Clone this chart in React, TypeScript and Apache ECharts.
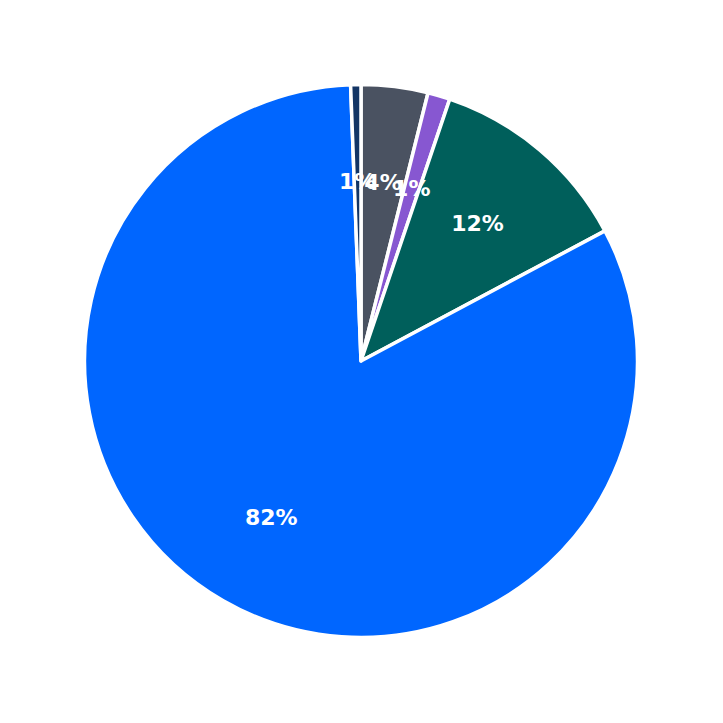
import React, { useEffect, useRef } from "react";
import * as echarts from "echarts";

const categories = ["A", "B", "C", "D", "E"];
const values = [3.9, 1.3, 12.0, 82.2, 0.6];
const colors = ["#4A5261", "#8757D1", "#005F5B", "#0066FF", "#133565"];

export default function App() {
  const ref = useRef<HTMLDivElement>(null);
  useEffect(() => {
    if (!ref.current) return;
    const chart = echarts.init(ref.current, null, { renderer: "svg" });
    const data = categories.map((c, i) => ({
      name: c,
      value: values[i],
      itemStyle: { color: colors[i] },
    }));
    chart.setOption({
      animation: false,
      series: [
        {
          type: "pie",
          center: [361, 361],
          radius: [0, 276.5],
          startAngle: 90,
          clockwise: true,
          silent: true,
          itemStyle: { borderColor: "#ffffff", borderWidth: 3.5 },
          label: { show: false },
          labelLine: { show: false },
          data,
        },
        {
          type: "pie",
          center: [361, 361],
          radius: [0, 354],
          startAngle: 90,
          clockwise: true,
          silent: true,
          itemStyle: { color: "rgba(0,0,0,0)", borderWidth: 0 },
          label: {
            show: true,
            position: "inside",
            formatter: (p: any) => Math.round(p.value) + "%",
            color: "#ffffff",
            fontFamily: "DejaVu Sans",
            fontWeight: "bold",
            fontSize: 22,
            textBorderWidth: 0,
          },
          labelLine: { show: false },
          labelLayout: { hideOverlap: false },
          data: categories.map((c, i) => ({ name: c, value: values[i] })),
        },
      ],
    });
    return () => chart.dispose();
  }, []);
  return (
    <div
      ref={ref}
      style={{ position: "fixed", left: 0, top: 0, width: 723, height: 723, background: "#ffffff" }}
    />
  );
}
